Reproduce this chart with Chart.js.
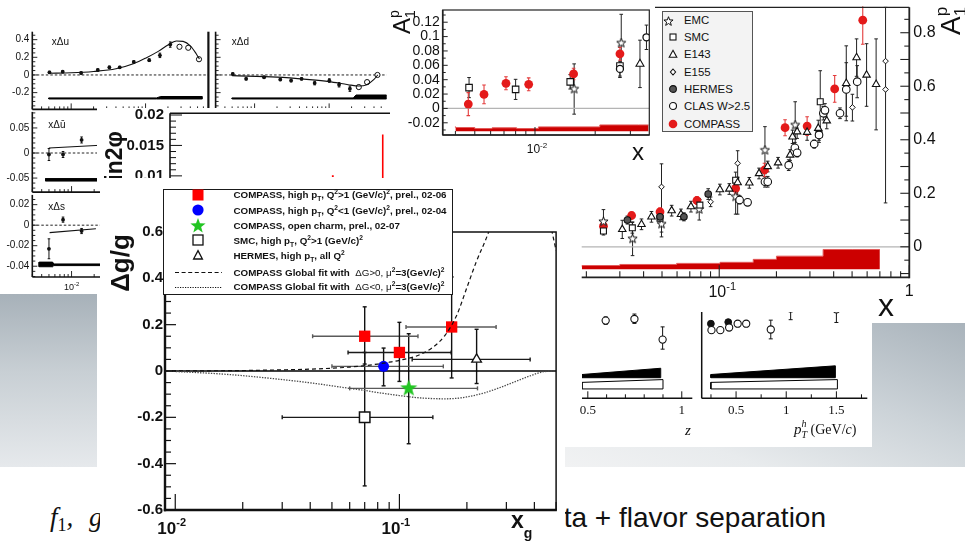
<!DOCTYPE html>
<html>
<head>
<meta charset="utf-8">
<title>Δg/g – high pT and open charm</title>
<script src="https://cdn.jsdelivr.net/npm/chart.js@4.4.1/dist/chart.umd.min.js"></script>
<style>
  html, body { margin: 0; padding: 0; }
  body { position: relative; width: 965px; height: 543px; overflow: hidden; background: #fff;
         font-family: "Liberation Sans", Arial, Helvetica, sans-serif; color: #111; }
  .box { position: absolute; display: block; }
  .white { background: #fff; }
  #grey-left  { left: 0; top: 294px; width: 97px; height: 173px;
                background: linear-gradient(180deg, #a7b1b9 0%, #c8cfd4 45%, #e6e9ec 100%); }
  #grey-right { left: 565px; top: 323px; width: 400px; height: 144px;
                background: linear-gradient(200deg, #a9b3bb 0%, #ccd3d8 40%, #e8ebed 75%, #f1f2f3 100%); }
  #zpt-white  { left: 565px; top: 300px; width: 307px; height: 147px; background: #fff; }
  #cap-left   { left: 50px; top: 504px; font: italic 27px/27px "Liberation Serif", serif; white-space: nowrap; }
  #cap-left sub { font-style: normal; font-size: 18px; vertical-align: -5px; line-height: 0; }
  #cap-left .g { margin-left: 9px; }
  #cap-right  { right: 139px; top: 504px; font: 28px/28px "Liberation Sans", Arial, sans-serif; white-space: nowrap; }

  #dg-legend { left: 163px; top: 189px; width: 288px; height: 104px; border: 1.5px solid #1a1a1a; background: #fff;
               font: bold 9.8px "Liberation Sans", Arial, sans-serif; }
  #a1-legend { left: 662px; top: 11px; width: 88.7px; height: 119.3px; border: 1px solid #555; background: #f3f3f3;
               font: 11.4px "Liberation Sans", Arial, sans-serif; }
  .lg-row { position: absolute; left: 0; width: 100%; }
  .lg-mk  { position: absolute; }
  .lg-tx  { position: absolute; white-space: nowrap; }
  .lg-tx sup, .lg-tx sub { font-size: 68%; line-height: 0; }
  .lg-tx .thin { font-weight: normal; }
  #dg-legend .lg-row, #dg-legend .lg-tx { height: 15px; line-height: 15px; }
  #a1-legend .lg-row, #a1-legend .lg-tx { height: 16px; line-height: 16px; }
</style>
</head>
<body>
<div class="box" id="grey-left"></div>
<div class="box" id="grey-right"></div>
<div class="box" id="zpt-white"></div>
<canvas class="box" id="z-chart" width="122" height="160" style="left:575px;top:300px"></canvas>
<canvas class="box" id="pt-chart" width="175" height="160" style="left:697px;top:300px"></canvas>

<canvas class="box" id="xdu-chart" width="212" height="88" style="left:0;top:25px"></canvas>
<canvas class="box" id="xdd-chart" width="180" height="88" style="left:212px;top:25px"></canvas>
<canvas class="box" id="xdub-chart" width="212" height="84" style="left:0;top:110px"></canvas>
<canvas class="box" id="xds-chart" width="212" height="100" style="left:0;top:193px"></canvas>
<canvas class="box white" id="sin-chart" width="295" height="80" style="left:97px;top:108px"></canvas>

<canvas class="box" id="a1-chart" width="390" height="320" style="left:575px;top:0"></canvas>
<div class="box" id="a1-legend">
  <div class="lg-row" style="top:0"><span class="lg-mk" id="a1-mk-emc" style="left:0.3px;top:3px"></span><span class="lg-tx" style="left:21px">EMC</span></div>
  <div class="lg-row" style="top:17.3px"><svg class="lg-mk" style="left:5.3px;top:3px" width="10" height="10"><rect x="2" y="2" width="6" height="6" fill="#fff" stroke="#111" stroke-width="1.1"/></svg><span class="lg-tx" style="left:21px">SMC</span></div>
  <div class="lg-row" style="top:34.3px"><svg class="lg-mk" style="left:5.3px;top:3px" width="10" height="10"><polygon points="5,1.3 8.8,8.3 1.2,8.3" fill="#fff" stroke="#111" stroke-width="1.1"/></svg><span class="lg-tx" style="left:21px">E143</span></div>
  <div class="lg-row" style="top:51.7px"><svg class="lg-mk" style="left:5.3px;top:3px" width="10" height="10"><polygon points="5,2 7.6,5 5,8 2.4,5" fill="#fff" stroke="#111" stroke-width="1.1"/></svg><span class="lg-tx" style="left:21px">E155</span></div>
  <div class="lg-row" style="top:69px"><svg class="lg-mk" style="left:5.3px;top:3px" width="10" height="10"><circle cx="5" cy="5" r="3.4" fill="#555" stroke="#111" stroke-width="1.1"/></svg><span class="lg-tx" style="left:21px">HERMES</span></div>
  <div class="lg-row" style="top:86px"><svg class="lg-mk" style="left:5.3px;top:3px" width="10" height="10"><circle cx="5" cy="5" r="3.5" fill="#fff" stroke="#111" stroke-width="1.1"/></svg><span class="lg-tx" style="left:21px">CLAS W&gt;2.5</span></div>
  <div class="lg-row" style="top:104px"><svg class="lg-mk" style="left:5.3px;top:3px" width="10" height="10"><circle cx="5" cy="5" r="4.3" fill="#e41a1a"/></svg><span class="lg-tx" style="left:21px">COMPASS</span></div>
</div>
<canvas class="box white" id="inset-chart" width="265" height="170" style="left:390px;top:0"></canvas>

<div class="box" id="cap-left"><i>f</i><sub>1</sub>, <i class="g">g</i><sub>1</sub></div>
<div class="box" id="cap-right">data + flavor separation</div>

<canvas class="box white" id="dg-chart" width="465" height="365" style="left:100px;top:178px"></canvas>
<div class="box" id="dg-legend">
  <div class="lg-row" style="top:-3px"><svg class="lg-mk" style="left:26.5px;top:0.5px" width="14" height="14"><rect x="1.5" y="1.5" width="11" height="11" fill="#ff0000"/></svg>
    <span class="lg-tx" style="left:69.5px">COMPASS, high p<sub>T</sub>, Q<sup>2</sup>&gt;1 (GeV/c)<sup>2</sup>, prel., 02-06</span></div>
  <div class="lg-row" style="top:12.7px"><svg class="lg-mk" style="left:26.5px;top:0.5px" width="14" height="14"><circle cx="7" cy="7" r="5.6" fill="#0000ff"/></svg>
    <span class="lg-tx" style="left:69.5px">COMPASS, high p<sub>T</sub>, Q<sup>2</sup>&lt;1 (GeV/c)<sup>2</sup>, prel., 02-04</span></div>
  <div class="lg-row" style="top:28px"><span class="lg-mk" id="dg-mk-star" style="left:24.5px;top:-1.5px"></span>
    <span class="lg-tx" style="left:69.5px">COMPASS, open charm, prel., 02-07</span></div>
  <div class="lg-row" style="top:42.7px"><svg class="lg-mk" style="left:26.5px;top:0.5px" width="14" height="14"><rect x="2" y="2" width="10" height="10" fill="#fff" stroke="#111" stroke-width="1.3"/></svg>
    <span class="lg-tx" style="left:69.5px">SMC, high p<sub>T</sub>, Q<sup>2</sup>&gt;1 (GeV/c)<sup>2</sup></span></div>
  <div class="lg-row" style="top:57.7px"><svg class="lg-mk" style="left:26.5px;top:0.5px" width="14" height="14"><polygon points="7,2.6 11.4,11 2.6,11" fill="#fff" stroke="#111" stroke-width="1.3"/></svg>
    <span class="lg-tx" style="left:69.5px">HERMES, high p<sub>T</sub>, all Q<sup>2</sup></span></div>
  <div class="lg-row" style="top:74.7px"><svg class="lg-mk" style="left:10.5px;top:0.5px" width="48" height="14"><line x1="0" y1="7.5" x2="47" y2="7.5" stroke="#111" stroke-width="1.2" stroke-dasharray="4 2.6"/></svg>
    <span class="lg-tx" style="left:69.5px">COMPASS Global fit with &nbsp;<span class="thin">ΔG&gt;0, μ</span><sup>2</sup>=3(GeV/c)<sup>2</sup></span></div>
  <div class="lg-row" style="top:89.3px"><svg class="lg-mk" style="left:10.5px;top:0.5px" width="48" height="14"><line x1="0" y1="7.5" x2="47" y2="7.5" stroke="#111" stroke-width="1.1" stroke-dasharray="1.2 1.3"/></svg>
    <span class="lg-tx" style="left:69.5px">COMPASS Global fit with &nbsp;<span class="thin">ΔG&lt;0, μ</span><sup>2</sup>=3(GeV/c)<sup>2</sup></span></div>
</div>

<script>
const SANS  = '"Liberation Sans", Arial, Helvetica, sans-serif';
const SERIF = '"Liberation Serif", "Times New Roman", serif';

// ── Δg/g : points (x_g, value, error bar ends) ───────────────────────
const dgHiQ2X   = [0.070, 0.100, 0.171];
const dgHiQ2Y   = [0.15, 0.08, 0.19];
const dgHiQ2XLo = [0.041, 0.059, 0.107];
const dgHiQ2XHi = [0.121, 0.170, 0.270];
const dgHiQ2YLo = [0.03, -0.045, -0.03];
const dgHiQ2YHi = [0.277, 0.21, 0.406];

const dgLoQ2X   = [0.085];
const dgLoQ2Y   = [0.02];
const dgLoQ2XLo = [0.050];
const dgLoQ2XHi = [0.157];
const dgLoQ2YLo = [-0.064];
const dgLoQ2YHi = [0.099];

const dgCharmX   = [0.110];
const dgCharmY   = [-0.075];
const dgCharmXLo = [0.060];
const dgCharmXHi = [0.223];
const dgCharmYLo = [-0.314];
const dgCharmYHi = [0.161];

const dgSmcX   = [0.070];
const dgSmcY   = [-0.20];
const dgSmcXLo = [0.030];
const dgSmcXHi = [0.141];
const dgSmcYLo = [-0.496];
const dgSmcYHi = [0.08];

const dgHermesX   = [0.221];
const dgHermesY   = [0.05];
const dgHermesXLo = [0.114];
const dgHermesXHi = [0.383];
const dgHermesYLo = [-0.054];
const dgHermesYHi = [0.18];

// global fits, mu^2 = 3 (GeV/c)^2
const fitPosX = [0.009, 0.015, 0.02, 0.03, 0.04, 0.05, 0.06, 0.07, 0.08, 0.09, 0.10, 0.12, 0.14, 0.16, 0.18, 0.20, 0.22, 0.25, 0.30, 0.40, 0.45, 0.48, 0.50];
const fitPosY = [0.0, 0.001, 0.002, 0.005, 0.008, 0.012, 0.017, 0.023, 0.030, 0.038, 0.046, 0.066, 0.100, 0.155, 0.240, 0.360, 0.470, 0.600, 0.850, 0.950, 0.750, 0.600, 0.520];
const fitNegX = [0.009, 0.012, 0.015, 0.02, 0.025, 0.03, 0.04, 0.05, 0.06, 0.07, 0.08, 0.10, 0.12, 0.14, 0.16, 0.18, 0.20, 0.24, 0.28, 0.32, 0.38, 0.44, 0.50];
const fitNegY = [0.0, -0.006, -0.011, -0.020, -0.029, -0.037, -0.051, -0.064, -0.075, -0.084, -0.093, -0.106, -0.115, -0.119, -0.120, -0.118, -0.112, -0.094, -0.072, -0.050, -0.022, -0.003, 0.0];

const dgYTicks  = [-0.6, -0.4, -0.2, 0, 0.2, 0.4, 0.6];
const dgXLabels = [0.01, 0.1];

// ── A1p world data ───────────────────────────────────────────────────
const a1CompassX   = [0.0246, 0.0346, 0.0488, 0.0763, 0.122, 0.173, 0.222, 0.290, 0.405, 0.569];
const a1CompassY   = [0.077, 0.117, 0.131, 0.173, 0.218, 0.287, 0.445, 0.451, 0.590, 0.847];
const a1CompassErr = [0.012, 0.012, 0.013, 0.014, 0.020, 0.025, 0.030, 0.035, 0.050, 0.090];

const a1EmcX   = [0.0246, 0.035, 0.0497, 0.0785, 0.122, 0.174, 0.251];
const a1EmcY   = [0.094, 0.030, 0.085, 0.140, 0.187, 0.361, 0.455];
const a1EmcErr = [0.045, 0.063, 0.030, 0.040, 0.065, 0.088, 0.087];

const a1SmcX   = [0.0246, 0.0349, 0.0488, 0.0791, 0.122, 0.335, 0.340];
const a1SmcY   = [0.059, 0.071, 0.107, 0.156, 0.249, 0.420, 0.542];
const a1SmcErr = [0.015, 0.020, 0.020, 0.020, 0.030, 0.030, 0.116];

const a1E143X   = [0.0309, 0.039, 0.044, 0.0562, 0.0629, 0.071, 0.1008, 0.113, 0.125, 0.144, 0.162, 0.180, 0.204, 0.236, 0.243, 0.257, 0.290, 0.332, 0.368, 0.466, 0.528, 0.596, 0.669];
const a1E143Y   = [0.065, 0.084, 0.112, 0.135, 0.121, 0.150, 0.214, 0.216, 0.240, 0.239, 0.274, 0.300, 0.314, 0.343, 0.411, 0.430, 0.428, 0.443, 0.471, 0.611, 0.707, 0.642, 0.607];
const a1E143Err = [0.034, 0.020, 0.020, 0.020, 0.020, 0.020, 0.020, 0.020, 0.020, 0.020, 0.020, 0.020, 0.020, 0.020, 0.025, 0.025, 0.030, 0.030, 0.030, 0.140, 0.070, 0.117, 0.170];

const a1E155X  = [0.0497, 0.0901, 0.125, 0.502, 0.750, 0.750];
const a1E155Y  = [0.224, 0.168, 0.312, 0.521, 0.694, 0.588];
const a1E155Lo = [0.037, 0.150, 0.122, 0.470, 0.164, 0.588];
const a1E155Hi = [0.310, 0.186, 0.359, 0.570, 0.895, 0.588];

const a1HermesX   = [0.0329, 0.0488, 0.0652, 0.0875];
const a1HermesY   = [0.100, 0.112, 0.112, 0.197];
const a1HermesErr = [0.015, 0.015, 0.015, 0.020];

const a1ClasX   = [0.128, 0.141, 0.174, 0.180, 0.232, 0.250, 0.257, 0.316, 0.335, 0.353, 0.360, 0.432, 0.466, 0.532];
const a1ClasY   = [0.175, 0.166, 0.243, 0.243, 0.305, 0.370, 0.351, 0.384, 0.418, 0.499, 0.510, 0.499, 0.588, 0.617];
const a1ClasErr = [0.015, 0.012, 0.020, 0.020, 0.020, 0.020, 0.015, 0.015, 0.020, 0.025, 0.025, 0.020, 0.100, 0.060];

const a1SysEdges = [0.0189, 0.030, 0.0597, 0.101, 0.151, 0.200, 0.352, 0.503, 0.70];
const a1SysTop   = [-0.075, -0.070, -0.066, -0.062, -0.058, -0.047, -0.035, -0.010];
const a1SysBase  = -0.084;
const a1YTicks   = [0, 0.2, 0.4, 0.6, 0.8];

// ── A1p low-x inset ──────────────────────────────────────────────────
const inCompassX   = [0.00464, 0.00556, 0.00716, 0.0093, 0.0156, 0.0266];
const inCompassY   = [0.006, 0.0195, 0.035, 0.0335, 0.048, 0.076];
const inCompassErr = [0.016, 0.013, 0.009, 0.009, 0.008, 0.009];
const inSmcX   = [0.00468, 0.0080, 0.0150, 0.0266];
const inSmcY   = [0.029, 0.0265, 0.037, 0.059];
const inSmcErr = [0.014, 0.014, 0.010, 0.016];
const inEmcX   = [0.0157, 0.0270];
const inEmcY   = [0.027, 0.091];
const inEmcErr = [0.035, 0.040];
const inHermesX   = [0.0266, 0.0361];
const inHermesY   = [0.055, 0.099];
const inHermesErr = [0.010, 0.017];
const inE143X   = [0.0335];
const inE143Y   = [0.062];
const inE143Err = [0.033];
const inSysEdges = [0.0040, 0.0050, 0.0061, 0.0081, 0.0104, 0.0211, 0.033, 0.037];
const inSysTop   = [-0.025, -0.0266, -0.028, -0.027, -0.028, -0.0257, -0.023];
const inSysBase  = -0.0317;
const inYTicks   = [-0.02, 0, 0.02, 0.04, 0.06, 0.08, 0.1, 0.12];

// ── flavour decomposition panels ─────────────────────────────────────
const uX    = [0.0051, 0.0077, 0.0136, 0.0228, 0.0326, 0.045, 0.0695, 0.112, 0.156, 0.215];
const uY    = [0.030, 0.037, 0.022, 0.056, 0.086, 0.086, 0.148, 0.167, 0.222, 0.344];
const uErr  = [0.012, 0.012, 0.012, 0.012, 0.015, 0.012, 0.012, 0.015, 0.025, 0.030];
const uOpenX = [0.286, 0.375, 0.523];
const uOpenY = [0.319, 0.308, 0.178];
const uFitX = [0.005, 0.01, 0.02, 0.04, 0.07, 0.1, 0.15, 0.2, 0.26, 0.32, 0.4, 0.48, 0.53];
const uFitY = [0.020, 0.025, 0.040, 0.070, 0.130, 0.190, 0.270, 0.340, 0.385, 0.380, 0.330, 0.240, 0.180];
const uSysX  = [0.005, 0.14, 0.16, 0.58];
const uSysLo = [-0.272, -0.272, -0.272, -0.272];
const uSysHi = [-0.260, -0.260, -0.244, -0.244];

const dX    = [0.0051, 0.0077, 0.0134, 0.0221, 0.0309, 0.0427, 0.064, 0.1007, 0.136, 0.19];
const dY    = [0.011, -0.044, -0.026, -0.052, -0.063, -0.044, -0.092, -0.063, -0.111, -0.156];
const dErr  = [0.012, 0.012, 0.012, 0.012, 0.015, 0.012, 0.020, 0.020, 0.025, 0.030];
const dOpenX = [0.25, 0.323, 0.445];
const dOpenY = [-0.137, -0.081, 0.0];
const dFitX = [0.005, 0.02, 0.05, 0.1, 0.18, 0.25, 0.32, 0.4, 0.45];
const dFitY = [-0.008, -0.025, -0.050, -0.075, -0.110, -0.125, -0.110, -0.050, 0.0];
const dSysX  = [0.005, 0.21, 0.23, 0.59];
const dSysLo = [-0.272, -0.272, -0.272, -0.272];
const dSysHi = [-0.260, -0.260, -0.227, -0.227];
const duYTicks = [-0.2, 0, 0.2, 0.4];

const ubX   = [0.005, 0.0077, 0.0136];
const ubY   = [-0.003, -0.003, 0.026];
const ubErr = [0.012, 0.006, 0.006];
const ubFitX = [0.005, 0.05];
const ubFitY = [0.010, 0.018];
const ubSysX  = [0.0045, 0.05];
const ubSysLo = [-0.056, -0.056];
const ubSysHi = [-0.051, -0.051];
const ubYTicks = [-0.05, 0, 0.05];

const sX   = [0.005, 0.0077, 0.0136];
const sY   = [-0.023, 0.0054, -0.0057];
const sErr = [0.0097, 0.0025, 0.0025];
const sFitX = [0.0051, 0.0211];
const sFitY = [-0.0073, -0.0035];
const sSysX  = [0.0037, 0.0056, 0.0058, 0.05];
const sSysLo = [-0.0405, -0.0405, -0.0394, -0.0394];
const sSysHi = [-0.0360, -0.0360, -0.0378, -0.0378];
const sYTicks = [-0.04, -0.02, 0, 0.02];

// ── sin2phi strip ────────────────────────────────────────────────────
const sinLineX = [0.967, 0.967];
const sinLineY = [0.0168, 0.0085];
const sinDotX  = [0.74];
const sinDotY  = [0.00995];
const sinYTicks = [0.01, 0.015, 0.02];

// ── z / pT panels (vertical axis in panel units) ─────────────────────
const zOpenX  = [0.595, 0.748, 0.898];
const zOpenY  = [0.830, 0.847, 0.627];
const zOpenLo = [0.790, 0.800, 0.525];
const zOpenHi = [0.870, 0.900, 0.763];
const zBlackX = [0.469, 0.888];
const zBlackLo = [0.220, 0.220];
const zBlackHi = [0.254, 0.321];
const zHollowX = [0.469, 0.900];
const zHollowLo = [0.100, 0.100];
const zHollowHi = [0.170, 0.200];
const zLabels = [0.5, 1];

const ptFilledX = [0.249, 0.422];
const ptFilledY = [0.797, 0.814];
const ptOpenX  = [0.255, 0.343, 0.431, 0.516, 0.601, 0.846, 1.044, 1.500];
const ptOpenY  = [0.728, 0.728, 0.756, 0.797, 0.797, 0.735, 0.960, 0.950];
const ptOpenErr = [0.030, 0.030, 0.030, 0.030, 0.030, 0.100, 0.120, 0.140];
const ptBlackX = [0.249, 1.490];
const ptBlackLo = [0.220, 0.220];
const ptBlackHi = [0.254, 0.347];
const ptHollowX = [0.249, 1.510];
const ptHollowLo = [0.100, 0.100];
const ptHollowHi = [0.170, 0.200];
const ptLabels = [0.5, 1, 1.5];

// ── Chart defaults ───────────────────────────────────────────────────
Chart.defaults.font.family = SANS;
Chart.defaults.color = '#111';
Chart.defaults.animation = false;
Chart.defaults.responsive = false;
Chart.defaults.events = [];
Chart.defaults.plugins.legend.display = false;
Chart.defaults.plugins.tooltip.enabled = false;
Chart.defaults.elements.point.radius = 0;
Chart.defaults.elements.point.hoverRadius = 0;
Chart.defaults.elements.line.tension = 0;

// ── helpers ──────────────────────────────────────────────────────────
function pts(xs, ys) { return xs.map((x, i) => ({ x: x, y: ys[i] })); }
function plus(ys, es)  { return ys.map((y, i) => y + es[i]); }
function minus(ys, es) { return ys.map((y, i) => y - es[i]); }
function stepTops(tops) { return tops.concat([tops[tops.length - 1]]); }

function seg(ctx, x0, y0, x1, y1) { ctx.beginPath(); ctx.moveTo(x0, y0); ctx.lineTo(x1, y1); ctx.stroke(); }

function freeze(size) {
  return s => {
    if (s.isHorizontal()) s.height = size; else s.width = size;
    s.paddingTop = s.paddingBottom = s.paddingLeft = s.paddingRight = 0;
  };
}
function plainAxis(type, min, max, size) {
  return { type, min, max, grid: { display: false, drawTicks: false }, border: { display: false },
           ticks: { display: false }, afterFit: freeze(size) };
}
function labelAxis(min, max, values, size, font, padding, position) {
  return { type: 'linear', position, min, max,
           grid: { display: false, drawTicks: false }, border: { display: false },
           afterBuildTicks: s => { s.ticks = values.map(v => ({ value: v })); },
           ticks: { autoSkip: false, maxRotation: 0, font, padding, color: '#111',
                    callback: v => String(Math.round(v * 1e4) / 1e4) },
           afterFit: freeze(size) };
}

function marks(xs, ys, style, radius, fill, stroke, bw, errorBars) {
  return { data: pts(xs, ys), showLine: false, pointStyle: style, pointRadius: radius,
           pointBackgroundColor: fill, pointBorderColor: stroke, pointBorderWidth: bw, errorBars };
}
function curve(xs, ys, color, width, dash, smooth) {
  return { data: pts(xs, ys), borderColor: color, borderWidth: width, borderDash: dash || [],
           pointRadius: 0, fill: false, cubicInterpolationMode: smooth ? 'monotone' : 'default' };
}
function band(xs, lo, hi, fillColor, edge) {
  const outline = pts(xs, lo).concat(pts(xs, hi).reverse());
  outline.push({ x: xs[0], y: lo[0] });
  const sets = [];
  if (fillColor) {
    sets.push({ data: pts(xs, lo), borderWidth: 0, pointRadius: 0, fill: false });
    sets.push({ data: pts(xs, hi), borderWidth: 0, pointRadius: 0, fill: '-1', backgroundColor: fillColor });
  }
  sets.push({ data: outline, borderColor: edge, borderWidth: 1, pointRadius: 0, fill: false });
  return sets;
}
function sysBand(edges, tops, base, fillColor, edge) {
  return { data: pts(edges, stepTops(tops)), stepped: 'after', borderColor: edge, borderWidth: 1,
           backgroundColor: fillColor, fill: { value: base }, pointRadius: 0 };
}

function starImage(size, outer, inner, fill, stroke, lw) {
  const c = document.createElement('canvas');
  c.width = c.height = size;
  const g = c.getContext('2d');
  g.beginPath();
  for (let k = 0; k < 10; k++) {
    const r = k % 2 ? inner : outer, t = -Math.PI / 2 + k * Math.PI / 5;
    g.lineTo(size / 2 + r * Math.cos(t), size / 2 + r * Math.sin(t));
  }
  g.closePath();
  if (fill) { g.fillStyle = fill; g.fill(); }
  if (stroke) { g.strokeStyle = stroke; g.lineWidth = lw; g.stroke(); }
  return c;
}
const greenStar = starImage(20, 9, 3.7, '#22c522', null, 0);
const openStar  = starImage(11, 4.8, 2.0, '#fff', '#111', 1);

function yTicks(ctx, scale, xPos, step, every, majorLen, minorLen, dir) {
  const n0 = Math.ceil(scale.min / step - 1e-6), n1 = Math.floor(scale.max / step + 1e-6);
  for (let n = n0; n <= n1; n++) {
    const py = scale.getPixelForValue(n * step);
    seg(ctx, xPos, py, xPos + dir * (n % every === 0 ? majorLen : minorLen), py);
  }
}
function xLinTicks(ctx, scale, yPos, step, every, majorLen, minorLen) {
  const n0 = Math.ceil(scale.min / step - 1e-6), n1 = Math.floor(scale.max / step + 1e-6);
  for (let n = n0; n <= n1; n++) {
    const px = scale.getPixelForValue(n * step);
    seg(ctx, px, yPos, px, yPos - (n % every === 0 ? majorLen : minorLen));
  }
}
function xLogTicks(ctx, scale, yPos, majorLen, minorLen) {
  for (let k = Math.floor(Math.log10(scale.min)); k <= Math.ceil(Math.log10(scale.max)); k++) {
    for (let d = 1; d < 10; d++) {
      const v = d * Math.pow(10, k);
      if (v < scale.min * 0.999 || v > scale.max * 1.001) continue;
      const px = scale.getPixelForValue(v);
      seg(ctx, px, yPos, px, yPos - (d === 1 ? majorLen : minorLen));
    }
  }
}
function powerLabel(ctx, base, exp, x, baseline, fontBase, fontExp, rise, mode) {
  ctx.font = fontBase; const wb = ctx.measureText(base).width;
  ctx.font = fontExp;  const we = ctx.measureText(exp).width;
  const left = mode === 'center' ? x - (wb + we) / 2 : x - wb;
  ctx.textAlign = 'left'; ctx.textBaseline = 'alphabetic';
  ctx.font = fontBase; ctx.fillText(base, left, baseline);
  ctx.font = fontExp;  ctx.fillText(exp, left + wb, baseline - rise);
}
function textRun(ctx, pieces, x, baseline) {
  ctx.textAlign = 'left'; ctx.textBaseline = 'alphabetic';
  pieces.forEach(p => {
    ctx.font = p.font;
    ctx.fillText(p.text, x, baseline + (p.dy || 0));
    if (!p.keep) x += ctx.measureText(p.text).width;
  });
}

// error bars read from each dataset's errorBars block
const errorBars = {
  id: 'errorBars',
  beforeDatasetsDraw(chart) {
    const { ctx, chartArea: a, scales: { x, y } } = chart;
    ctx.save();
    ctx.beginPath(); ctx.rect(a.left, a.top - 1, a.right - a.left, a.bottom - a.top + 2); ctx.clip();
    chart.data.datasets.forEach(ds => {
      const e = ds.errorBars;
      if (!e) return;
      const cap = e.cap || 0;
      ctx.lineWidth = e.width || 1;
      ds.data.forEach((p, i) => {
        const px = x.getPixelForValue(p.x), py = y.getPixelForValue(p.y);
        if (e.xLo) {
          const x0 = x.getPixelForValue(e.xLo[i]), x1 = x.getPixelForValue(e.xHi[i]);
          ctx.strokeStyle = e.xColors ? e.xColors[i] : (e.xColor || e.color || '#111');
          seg(ctx, x0, py, x1, py);
          if (cap) { seg(ctx, x0, py - cap, x0, py + cap); seg(ctx, x1, py - cap, x1, py + cap); }
        }
        if (e.yLo) {
          const y0 = y.getPixelForValue(e.yLo[i]), y1 = y.getPixelForValue(e.yHi[i]);
          if (Math.abs(y1 - y0) < 0.5) return;
          ctx.strokeStyle = e.color || '#111';
          seg(ctx, px, y0, px, y1);
          if (cap) { seg(ctx, px - cap, y0, px + cap, y0); seg(ctx, px - cap, y1, px + cap, y1); }
        }
      });
    });
    ctx.restore();
  }
};

// ── Δg/g main chart ──────────────────────────────────────────────────
const GREY_BAR = '#5a5a5a', BLACK_BAR = '#1a1a1a';
const dgDecor = {
  id: 'dgDecor',
  beforeDatasetsDraw(chart) {
    const { ctx, chartArea: a, scales: { y } } = chart;
    ctx.save();
    ctx.strokeStyle = '#000'; ctx.lineWidth = 1.7;
    const y0 = y.getPixelForValue(0);
    seg(ctx, a.left, y0, a.right, y0);
    ctx.restore();
  },
  afterDraw(chart) {
    const { ctx, chartArea: a, scales: { x, y } } = chart;
    ctx.save();
    ctx.strokeStyle = '#111'; ctx.fillStyle = '#111';
    ctx.lineWidth = 1.2;
    yTicks(ctx, y, a.left, 0.05, 4, 11, 6, 1);
    xLogTicks(ctx, x, a.bottom, 16, 8);
    ctx.lineWidth = 1.5;
    ctx.strokeRect(a.left, a.top, a.right - a.left, a.bottom - a.top);
    ctx.lineWidth = 2.4;
    seg(ctx, a.left, a.top, a.left, a.bottom + 1.2);
    seg(ctx, a.left - 1.2, a.bottom, a.right + 0.7, a.bottom);
    dgXLabels.forEach(v => powerLabel(ctx, '10', String(Math.round(Math.log10(v))), x.getPixelForValue(v) + 1,
      a.bottom + 24, 'bold 17px ' + SANS, 'bold 11px ' + SANS, 8, 'right'));
    // axis titles
    ctx.save();
    ctx.translate(22, 85); ctx.rotate(-Math.PI / 2);
    ctx.font = 'bold 26px ' + SANS; ctx.textAlign = 'center'; ctx.textBaseline = 'middle';
    ctx.fillText('Δg/g', 0, 0);
    ctx.restore();
    textRun(ctx, [{ text: 'x', font: 'bold 23px ' + SANS }, { text: 'g', font: 'bold 14px ' + SANS, dy: 10 }], 411, 349.5);
    ctx.restore();
  }
};

new Chart(document.getElementById('dg-chart'), {
  type: 'line',
  data: {
    datasets: [
      curve(fitNegX, fitNegY, '#4a4a4a', 1.3, [1.4, 1.3], true),
      curve(fitPosX, fitPosY, '#111', 1.2, [4, 3], true),
      marks(dgHermesX, dgHermesY, 'triangle', 5.6, '#fff', '#111', 1.3,
        { xLo: dgHermesXLo, xHi: dgHermesXHi, yLo: dgHermesYLo, yHi: dgHermesYHi, xColor: BLACK_BAR, cap: 2, width: 1.4 }),
      marks(dgSmcX, dgSmcY, 'rect', 7.4, '#fff', '#111', 1.5,
        { xLo: dgSmcXLo, xHi: dgSmcXHi, yLo: dgSmcYLo, yHi: dgSmcYHi, xColor: BLACK_BAR, cap: 2, width: 1.4 }),
      marks(dgCharmX, dgCharmY, greenStar, 8, '#22c522', '#22c522', 0,
        { xLo: dgCharmXLo, xHi: dgCharmXHi, yLo: dgCharmYLo, yHi: dgCharmYHi, xColor: GREY_BAR, cap: 2, width: 1.4 }),
      marks(dgLoQ2X, dgLoQ2Y, 'circle', 5.5, '#0000ff', '#0000ff', 0,
        { xLo: dgLoQ2XLo, xHi: dgLoQ2XHi, yLo: dgLoQ2YLo, yHi: dgLoQ2YHi, xColor: GREY_BAR, cap: 2, width: 1.4 }),
      marks(dgHiQ2X, dgHiQ2Y, 'rect', 8, '#ff0000', '#ff0000', 0,
        { xLo: dgHiQ2XLo, xHi: dgHiQ2XHi, yLo: dgHiQ2YLo, yHi: dgHiQ2YHi, xColors: [GREY_BAR, BLACK_BAR, GREY_BAR], cap: 2, width: 1.4 })
    ]
  },
  options: {
    layout: { padding: { top: 54, right: 4, left: 0, bottom: 0 } },
    scales: {
      x: plainAxis('logarithmic', 0.009, 0.5, 33),
      y: labelAxis(-0.6, 0.6, dgYTicks, 65, { size: 15, weight: 'bold' }, 2, 'left')
    }
  },
  plugins: [errorBars, dgDecor]
});

// ── A1p chart ────────────────────────────────────────────────────────
const a1Decor = {
  id: 'a1Decor',
  beforeDraw(chart) {
    chart.ctx.save(); chart.ctx.fillStyle = '#fff'; chart.ctx.fillRect(0, 0, chart.width, 312); chart.ctx.restore();
  },
  beforeDatasetsDraw(chart) {
    const { ctx, chartArea: a, scales: { y } } = chart;
    ctx.save(); ctx.strokeStyle = '#b4b4b4'; ctx.lineWidth = 1.2;
    seg(ctx, a.left, y.getPixelForValue(0), a.right, y.getPixelForValue(0));
    ctx.restore();
  },
  afterDraw(chart) {
    const { ctx, chartArea: a, scales: { x, y } } = chart;
    ctx.save();
    ctx.strokeStyle = '#222'; ctx.fillStyle = '#111'; ctx.lineWidth = 1.1;
    yTicks(ctx, y, a.right, 0.05, 2, 9, 5, -1);
    xLogTicks(ctx, x, a.bottom, 12, 6);
    ctx.lineWidth = 1.2; seg(ctx, a.left, a.top, a.right, a.top);
    ctx.lineWidth = 1.8;
    seg(ctx, a.right, a.top, a.right, a.bottom + 0.9);
    seg(ctx, a.left, a.bottom, a.right, a.bottom);
    powerLabel(ctx, '10', '-1', x.getPixelForValue(0.1) + 3, 297, '16px ' + SANS, '11px ' + SANS, 7, 'center');
    ctx.font = '16px ' + SANS; ctx.textAlign = 'center';
    ctx.fillText('1', x.getPixelForValue(1), 296);
    ctx.font = '32px ' + SANS; ctx.fillText('x', 311, 316);
    // A1p title
    ctx.save();
    ctx.translate(385, 35); ctx.rotate(-Math.PI / 2);
    textRun(ctx, [{ text: 'A', font: '28px ' + SANS }, { text: 'p', font: '17px ' + SANS, dy: -13, keep: true },
                  { text: '1', font: '17px ' + SANS, dy: 6 }], 0, 0);
    ctx.restore();
    ctx.restore();
  }
};

const a1Err = (ys, es) => ({ yLo: minus(ys, es), yHi: plus(ys, es), cap: 1.8, width: 1, color: '#222' });
new Chart(document.getElementById('a1-chart'), {
  type: 'line',
  data: {
    datasets: [
      sysBand(a1SysEdges, a1SysTop, a1SysBase, '#cc0000', '#e35a5a'),
      marks(a1ClasX, a1ClasY, 'circle', 3.8, '#fff', '#111', 1.1, a1Err(a1ClasY, a1ClasErr)),
      marks(a1HermesX, a1HermesY, 'circle', 3.3, '#555', '#111', 1.1, a1Err(a1HermesY, a1HermesErr)),
      marks(a1E155X, a1E155Y, 'rectRot', 2.8, '#fff', '#111', 1, { yLo: a1E155Lo, yHi: a1E155Hi, cap: 1.8, width: 1, color: '#222' }),
      marks(a1E143X, a1E143Y, 'triangle', 4.3, '#fff', '#111', 1.1, a1Err(a1E143Y, a1E143Err)),
      marks(a1SmcX, a1SmcY, 'rect', 4.2, '#fff', '#111', 1.1, a1Err(a1SmcY, a1SmcErr)),
      marks(a1EmcX, a1EmcY, openStar, 4, '#fff', '#111', 1, a1Err(a1EmcY, a1EmcErr)),
      marks(a1CompassX, a1CompassY, 'circle', 4.4, '#e41a1a', '#e41a1a', 0,
        { yLo: minus(a1CompassY, a1CompassErr), yHi: plus(a1CompassY, a1CompassErr), cap: 1.8, width: 1.1, color: '#e33b3b' })
    ]
  },
  options: {
    layout: { padding: { top: 7.3, left: 6.7, right: 0, bottom: 0 } },
    scales: {
      x: plainAxis('logarithmic', 0.0189, 1, 42.7),
      y: labelAxis(-0.114, 0.895, a1YTicks, 55.7, { size: 16 }, 4, 'right')
    }
  },
  plugins: [errorBars, a1Decor]
});

// ── inset ────────────────────────────────────────────────────────────
const insetDecor = {
  id: 'insetDecor',
  beforeDatasetsDraw(chart) {
    const { ctx, chartArea: a, scales: { y } } = chart;
    ctx.save(); ctx.strokeStyle = '#b4b4b4'; ctx.lineWidth = 1.2;
    seg(ctx, a.left, y.getPixelForValue(0), a.right, y.getPixelForValue(0));
    ctx.restore();
  },
  afterDraw(chart) {
    const { ctx, chartArea: a, scales: { x, y } } = chart;
    ctx.save();
    ctx.strokeStyle = '#222'; ctx.fillStyle = '#111'; ctx.lineWidth = 1;
    yTicks(ctx, y, a.left, 0.01, 2, 5, 3, 1);
    xLogTicks(ctx, x, a.bottom, 8, 4);
    ctx.lineWidth = 1.2; ctx.strokeRect(a.left, a.top, a.right - a.left, a.bottom - a.top);
    ctx.lineWidth = 1.6; seg(ctx, a.left, a.top, a.left, a.bottom); seg(ctx, a.left, a.bottom, a.right, a.bottom);
    powerLabel(ctx, '10', '-2', x.getPixelForValue(0.01) + 2, 153, '12px ' + SANS, '8px ' + SANS, 5, 'center');
    ctx.font = '24px ' + SANS; ctx.textAlign = 'center'; ctx.fillText('x', 248, 160);
    ctx.save();
    ctx.translate(20, 34); ctx.rotate(-Math.PI / 2);
    textRun(ctx, [{ text: 'A', font: '24px ' + SANS }, { text: 'p', font: '14px ' + SANS, dy: -11, keep: true },
                  { text: '1', font: '14px ' + SANS, dy: 5 }], 0, 0);
    ctx.restore();
    ctx.restore();
  }
};
new Chart(document.getElementById('inset-chart'), {
  type: 'line',
  data: {
    datasets: [
      sysBand(inSysEdges, inSysTop, inSysBase, '#cc0000', '#e35a5a'),
      marks(inE143X, inE143Y, 'triangle', 4.6, '#fff', '#111', 1.1, a1Err(inE143Y, inE143Err)),
      marks(inHermesX, inHermesY, 'circle', 3.5, '#fff', '#111', 1.3, a1Err(inHermesY, inHermesErr)),
      marks(inSmcX, inSmcY, 'rect', 4.6, '#fff', '#111', 1.1, a1Err(inSmcY, inSmcErr)),
      marks(inEmcX, inEmcY, openStar, 4, '#fff', '#111', 1, a1Err(inEmcY, inEmcErr)),
      marks(inCompassX, inCompassY, 'circle', 4.4, '#e41a1a', '#e41a1a', 0,
        { yLo: minus(inCompassY, inCompassErr), yHi: plus(inCompassY, inCompassErr), cap: 1.8, width: 1.1, color: '#e33b3b' })
    ]
  },
  options: {
    layout: { padding: { top: 10, right: 5.7, left: 0, bottom: 0 } },
    scales: {
      x: plainAxis('logarithmic', 0.003455, 0.0373, 35),
      y: labelAxis(-0.037, 0.137, inYTicks, 52.7, { size: 14 }, 3, 'left')
    }
  },
  plugins: [errorBars, insetDecor]
});

// ── small flavour panels ─────────────────────────────────────────────
function panelDecor(o) {
  return {
    id: 'panelDecor',
    afterDraw(chart) {
      const { ctx, chartArea: a, scales: { x, y } } = chart;
      ctx.save();
      ctx.strokeStyle = '#111'; ctx.fillStyle = '#111'; ctx.lineWidth = 0.9;
      yTicks(ctx, y, a.left, o.yStep, o.yEvery, 5, 3, 1);
      xLogTicks(ctx, x, a.bottom, 6, 3);
      ctx.lineWidth = 1.6;
      seg(ctx, a.left, a.top, a.left, a.bottom);
      seg(ctx, a.left, a.bottom, a.right, a.bottom);
      if (o.rightLine) { ctx.lineWidth = 2.2; seg(ctx, a.right, a.top, a.right, a.bottom); }
      ctx.font = '10px ' + SANS; ctx.textAlign = 'left'; ctx.textBaseline = 'alphabetic';
      ctx.fillText(o.label, o.labelAt[0], o.labelAt[1]);
      if (o.decadeLabel) powerLabel(ctx, '10', '-2', x.getPixelForValue(0.01), a.bottom + 13, '9px ' + SANS, '6px ' + SANS, 4, 'center');
      ctx.restore();
    },
    beforeDatasetsDraw(chart) {
      const { ctx, chartArea: a, scales: { y } } = chart;
      ctx.save(); ctx.strokeStyle = '#222'; ctx.lineWidth = 1; ctx.setLineDash([2.5, 2]);
      seg(ctx, a.left, y.getPixelForValue(0), a.right, y.getPixelForValue(0));
      ctx.restore();
    }
  };
}
function smallPanel(id, o) {
  return new Chart(document.getElementById(id), {
    type: 'line',
    data: { datasets: o.sets },
    options: {
      layout: { padding: o.pad },
      scales: {
        x: plainAxis('logarithmic', o.xMin, o.xMax, o.xSize),
        y: o.yTicks ? labelAxis(o.yMin, o.yMax, o.yTicks, o.ySize, { size: 10 }, 3, 'left')
                    : plainAxis('linear', o.yMin, o.yMax, 0)
      }
    },
    plugins: [errorBars, panelDecor(o)]
  });
}
const smallErr = (ys, es) => ({ yLo: minus(ys, es), yHi: plus(ys, es), cap: 1.3, width: 1, color: '#111' });

smallPanel('xdu-chart', {
  xMin: 0.003, xMax: 0.7, xSize: 2, yMin: -0.39, yMax: 0.49, yTicks: duYTicks, ySize: 32.3,
  pad: { top: 6.7, right: 0, left: 0, bottom: 0 }, yStep: 0.05, yEvery: 4, rightLine: true,
  label: 'xΔu', labelAt: [51.7, 20],
  sets: [
    ...band(uSysX, uSysLo, uSysHi, '#000', '#000'),
    curve(uFitX, uFitY, '#111', 1.1, [], true),
    marks(uX, uY, 'circle', 1.9, '#111', '#111', 0, smallErr(uY, uErr)),
    marks(uOpenX, uOpenY, 'circle', 2.6, '#fff', '#111', 1, smallErr(uOpenY, [0.02, 0.02, 0.015]))
  ]
});
smallPanel('xdd-chart', {
  xMin: 0.003, xMax: 0.592, xSize: 2, yMin: -0.39, yMax: 0.49, yTicks: null,
  pad: { top: 6.7, right: 5.3, left: 0.3, bottom: 0 }, yStep: 0.05, yEvery: 4,
  label: 'xΔd', labelAt: [19.7, 20],
  sets: [
    ...band(dSysX, dSysLo, dSysHi, '#000', '#000'),
    curve(dFitX, dFitY, '#111', 1.1, [], true),
    marks(dX, dY, 'circle', 1.9, '#111', '#111', 0, smallErr(dY, dErr)),
    marks(dOpenX, dOpenY, 'circle', 2.6, '#fff', '#111', 1, smallErr(dOpenY, [0.02, 0.02, 0.01]))
  ]
});
smallPanel('xdub-chart', {
  xMin: 0.003, xMax: 0.7, xSize: 1, yMin: -0.078, yMax: 0.082, yTicks: ubYTicks, ySize: 32.3,
  pad: { top: 1.7, right: 0, left: 0, bottom: 0 }, yStep: 0.01, yEvery: 5,
  label: 'xΔū', labelAt: [48.3, 18],
  sets: [
    ...band(ubSysX, ubSysLo, ubSysHi, '#000', '#000'),
    curve(ubFitX, ubFitY, '#111', 1.1, [], false),
    marks(ubX, ubY, 'circle', 1.9, '#111', '#111', 0, smallErr(ubY, ubErr))
  ]
});
smallPanel('xds-chart', {
  xMin: 0.003, xMax: 0.7, xSize: 16, yMin: -0.0505, yMax: 0.0295, yTicks: sYTicks, ySize: 32.3,
  pad: { top: 0, right: 0, left: 0, bottom: 0 }, yStep: 0.005, yEvery: 4,
  label: 'xΔs', labelAt: [48.3, 17], decadeLabel: true,
  sets: [
    ...band(sSysX, sSysLo, sSysHi, '#000', '#000'),
    curve(sFitX, sFitY, '#111', 1.1, [], false),
    marks(sX, sY, 'circle', 1.9, '#111', '#111', 0, smallErr(sY, sErr))
  ]
});

// ── sin2phi strip ────────────────────────────────────────────────────
const sinDecor = {
  id: 'sinDecor',
  afterDraw(chart) {
    const { ctx, chartArea: a, scales: { y } } = chart;
    ctx.save();
    ctx.strokeStyle = '#111'; ctx.fillStyle = '#111'; ctx.lineWidth = 1;
    yTicks(ctx, y, a.left, 0.001, 5, 12, 6, 1);
    ctx.lineWidth = 1.6;
    seg(ctx, a.left, a.top, a.left, chart.height);
    seg(ctx, a.left, a.top, a.right, a.top);
    ctx.save();
    ctx.translate(25, 23); ctx.rotate(-Math.PI / 2);
    ctx.font = 'bold 23px ' + SANS; ctx.textAlign = 'right'; ctx.textBaseline = 'alphabetic';
    ctx.fillText('sin2φ', 0, 0);
    ctx.restore();
    ctx.restore();
  }
};
new Chart(document.getElementById('sin-chart'), {
  type: 'line',
  data: {
    datasets: [
      curve(sinLineX, sinLineY, '#ff0000', 1.6, [], false),
      marks(sinDotX, sinDotY, 'rect', 1.3, '#ff0000', '#ff0000', 0)
    ]
  },
  options: {
    layout: { padding: { top: 5.3, right: 2, left: 0, bottom: 0 } },
    scales: {
      x: plainAxis('linear', 0, 1, 3),
      y: labelAxis(0.0085, 0.02028, sinYTicks, 73, { size: 15, weight: 'bold' }, 6, 'left')
    }
  },
  plugins: [sinDecor]
});

// ── z and pT panels ──────────────────────────────────────────────────
function zptDecor(withDivider, minorStep, every, title) {
  return {
    id: 'zptDecor',
    afterDraw(chart) {
      const { ctx, chartArea: a, scales: { x } } = chart;
      ctx.save();
      ctx.strokeStyle = '#111'; ctx.fillStyle = '#111'; ctx.lineWidth = 1;
      xLinTicks(ctx, x, a.bottom, minorStep, every, 7, 4);
      ctx.lineWidth = 1.5;
      seg(ctx, a.left, a.bottom, a.right, a.bottom);
      if (withDivider) seg(ctx, a.left, 0, a.left, a.bottom);
      textRun(ctx, title.pieces, title.x, title.y);
      ctx.restore();
    }
  };
}
const serifAxis = (min, max, labels) => labelAxis(min, max, labels, 61.7, { family: SERIF, size: 13 }, 4, 'bottom');
const zptErr = (lo, hi) => ({ yLo: lo, yHi: hi, cap: 2, width: 1, color: '#111' });

new Chart(document.getElementById('z-chart'), {
  type: 'line',
  data: {
    datasets: [
      ...band(zBlackX, zBlackLo, zBlackHi, '#000', '#000'),
      ...band(zHollowX, zHollowLo, zHollowHi, null, '#000'),
      marks(zOpenX, zOpenY, 'circle', 3.6, '#fff', '#111', 1.1, zptErr(zOpenLo, zOpenHi))
    ]
  },
  options: {
    layout: { padding: { left: 7, right: 0, top: 0, bottom: 0 } },
    scales: { x: serifAxis(0.469, 1.056, zLabels), y: plainAxis('linear', 0, 1, 0) }
  },
  plugins: [errorBars, zptDecor(false, 0.1, 5, { x: 110, y: 135, pieces: [{ text: 'z', font: 'italic 15px ' + SERIF }] })]
});

new Chart(document.getElementById('pt-chart'), {
  type: 'line',
  data: {
    datasets: [
      ...band(ptBlackX, ptBlackLo, ptBlackHi, '#000', '#000'),
      ...band(ptHollowX, ptHollowLo, ptHollowHi, null, '#000'),
      marks(ptOpenX, ptOpenY, 'circle', 3.6, '#fff', '#111', 1.1, zptErr(minus(ptOpenY, ptOpenErr), plus(ptOpenY, ptOpenErr))),
      marks(ptFilledX, ptFilledY, 'circle', 3.4, '#111', '#111', 1)
    ]
  },
  options: {
    layout: { padding: { left: 0, right: 0, top: 0, bottom: 0 } },
    scales: { x: serifAxis(0.1575, 1.808, ptLabels), y: plainAxis('linear', 0, 1, 0) }
  },
  plugins: [errorBars, zptDecor(true, 0.25, 2, { x: 97, y: 134, pieces: [
    { text: 'p', font: 'italic 15px ' + SERIF },
    { text: 'h', font: 'italic 10px ' + SERIF, dy: -7, keep: true },
    { text: 'T', font: 'italic 10px ' + SERIF, dy: 4 },
    { text: ' (GeV/', font: '14px ' + SERIF },
    { text: 'c', font: 'italic 14px ' + SERIF },
    { text: ')', font: '14px ' + SERIF }
  ] })]
});

// legend star markers
document.getElementById('dg-mk-star').appendChild(starImage(18, 8, 3.3, '#22c522', null, 0));
document.getElementById('a1-mk-emc').appendChild(starImage(11, 4.8, 2.0, '#fff', '#111', 1));
</script>
</body>
</html>
